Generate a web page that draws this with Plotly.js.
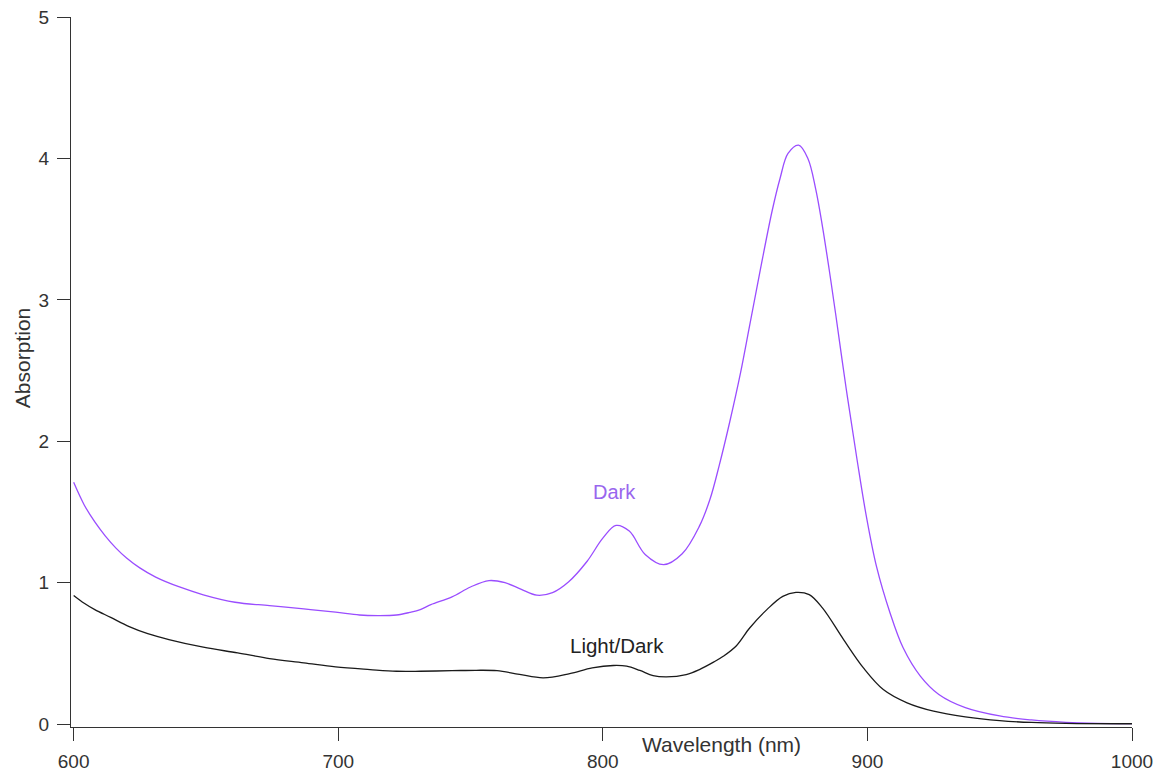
<!DOCTYPE html>
<html>
<head>
<meta charset="utf-8">
<script src="https://cdn.plot.ly/plotly-3.0.1.min.js"></script>
<style>
  html, body { margin: 0; padding: 0; background: #fff; }
  #chart { width: 1161px; height: 774px; }
</style>
</head>
<body>
<div id="chart"></div>
<script>
// Wavelength (nm) and absorption values
const darkWavelength = [600, 604, 608, 612, 616, 620, 625, 631, 640, 649, 661, 674, 687, 699, 708, 715, 722, 727, 731, 735, 743, 750, 757, 763, 769, 775, 781, 787, 794, 800, 805, 810, 816, 823, 830, 836.5, 840.5, 844, 848, 852, 855.5, 859.5, 864, 867, 870, 874, 877.5, 880.5, 883, 885.5, 888, 892, 896, 899.5, 903.5, 908.5, 913.5, 920, 927, 937, 950, 962, 975, 987, 1000];
const darkAbsorption = [1.71, 1.55, 1.43, 1.33, 1.245, 1.175, 1.105, 1.04, 0.97, 0.915, 0.862, 0.838, 0.815, 0.792, 0.772, 0.768, 0.772, 0.79, 0.81, 0.845, 0.90, 0.97, 1.015, 1.00, 0.955, 0.912, 0.93, 1.005, 1.15, 1.315, 1.405, 1.365, 1.20, 1.128, 1.205, 1.40, 1.59, 1.83, 2.14, 2.48, 2.82, 3.21, 3.63, 3.86, 4.035, 4.094, 4.00, 3.78, 3.52, 3.22, 2.90, 2.37, 1.88, 1.48, 1.11, 0.79, 0.54, 0.34, 0.21, 0.117, 0.058, 0.03, 0.013, 0.006, 0.004];

const lightDarkWavelength = [600, 604, 608, 614, 621, 628, 636, 649, 662, 674, 687, 699, 712, 722, 731, 743, 752, 760, 768.5, 777.5, 787.5, 796, 804, 809, 814, 819, 824, 831.5, 836.5, 842, 845.5, 850.5, 855.5, 862, 868, 873, 878, 883, 891, 898.5, 906, 915, 925, 937, 950, 962, 975, 1000];
const lightDarkAbsorption = [0.91, 0.855, 0.81, 0.755, 0.69, 0.64, 0.598, 0.544, 0.504, 0.464, 0.434, 0.405, 0.386, 0.374, 0.374, 0.378, 0.381, 0.378, 0.352, 0.328, 0.358, 0.398, 0.415, 0.41, 0.38, 0.344, 0.335, 0.351, 0.386, 0.44, 0.48, 0.555, 0.68, 0.81, 0.904, 0.932, 0.916, 0.822, 0.598, 0.398, 0.245, 0.151, 0.092, 0.052, 0.025, 0.012, 0.006, 0.003];

const xTickValues = [600, 700, 800, 900, 1000];
const yTickValues = [0, 1, 2, 3, 4, 5];

const seriesNames = ["Dark", "Light/Dark"];
const xTitle = "Wavelength (nm)";
const yTitle = "Absorption";

const purple = "#9a4dff";
const black = "#1a1a1a";
const fontFamily = "'Liberation Sans', Arial, sans-serif";

const traces = [
  {
    x: darkWavelength, y: darkAbsorption, name: seriesNames[0],
    type: "scatter", mode: "lines",
    line: { color: purple, width: 1.3, shape: "spline", smoothing: 1 },
    hoverinfo: "x+y"
  },
  {
    x: lightDarkWavelength, y: lightDarkAbsorption, name: seriesNames[1],
    type: "scatter", mode: "lines",
    line: { color: black, width: 1.3, shape: "spline", smoothing: 1 },
    hoverinfo: "x+y"
  }
];

const layout = {
  width: 1161, height: 774,
  margin: { l: 71, r: 29, t: 17, b: 47 },
  paper_bgcolor: "#ffffff", plot_bgcolor: "#ffffff",
  showlegend: false,
  font: { family: fontFamily, size: 19, color: "#333333" },
  xaxis: {
    range: [599, 1000],
    tickvals: xTickValues,
    ticktext: xTickValues.map(String),
    ticks: "outside", ticklen: 13, tickwidth: 1, tickcolor: "#333333",
    showline: true, linecolor: "#333333", linewidth: 1,
    showgrid: false, zeroline: false,
    tickfont: { family: fontFamily, size: 19, color: "#333333" },
    ticklabelstandoff: 4,
    automargin: false
  },
  yaxis: {
    range: [-0.02, 5],
    tickvals: yTickValues,
    ticktext: yTickValues.map(String),
    ticks: "outside", ticklen: 13, tickwidth: 1, tickcolor: "#333333",
    showline: true, linecolor: "#333333", linewidth: 1,
    showgrid: false, zeroline: false,
    tickfont: { family: fontFamily, size: 19, color: "#333333" },
    ticklabelstandoff: 4,
    automargin: false
  },
  annotations: [
    {
      text: xTitle, xref: "paper", yref: "paper",
      x: (721 - 71) / 1061, y: (727 - 745) / 710.3,
      xanchor: "center", yanchor: "middle", showarrow: false,
      font: { family: fontFamily, size: 21, color: "#333333" }
    },
    {
      text: yTitle, xref: "paper", yref: "paper",
      x: (22 - 71) / 1061, y: (727 - 358) / 710.3,
      xanchor: "center", yanchor: "middle", showarrow: false, textangle: -90,
      font: { family: fontFamily, size: 21, color: "#333333" }
    },
    {
      text: seriesNames[0], xref: "x", yref: "y",
      x: 804.5, y: 1.643,
      xanchor: "center", yanchor: "middle", showarrow: false,
      font: { family: fontFamily, size: 20, color: "#9966ee" }
    },
    {
      text: seriesNames[1], xref: "x", yref: "y",
      x: 805.3, y: 0.556,
      xanchor: "center", yanchor: "middle", showarrow: false,
      font: { family: fontFamily, size: 20.5, color: "#222222" }
    }
  ]
};

Plotly.newPlot("chart", traces, layout, { displayModeBar: false, staticPlot: true });
</script>
</body>
</html>
